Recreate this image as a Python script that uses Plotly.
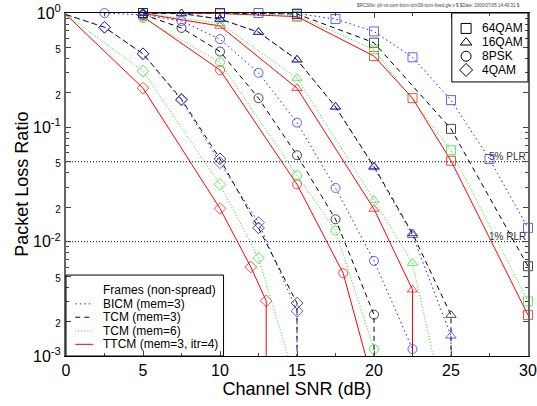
import numpy as np
import plotly.graph_objects as go

# ---------------- data ----------------
MODULATIONS = ["64QAM", "16QAM", "8PSK", "4QAM"]
SCHEMES = ["BICM", "TCM3", "TCM6", "TTCM"]
SCHEME_LABELS = ["BICM (mem=3)", "TCM (mem=3)", "TCM (mem=6)", "TTCM (mem=3, itr=4)"]
LEGEND_TITLE = "Frames (non-spread)"

# 4QAM   (a 0 loss ratio = no packet lost; drawn as a drop to the bottom)
SNR_4QAM_BICM = [0, 2.5, 5, 7.5, 10, 12.5, 15, 15]
PLR_4QAM_BICM = [0.97, 0.75, 0.44, 0.173, 0.049, 0.0147, 0.00247, 0]
SNR_4QAM_TCM3 = [0, 2.5, 5, 7.5, 10, 12.5, 15, 15]
PLR_4QAM_TCM3 = [0.97, 0.75, 0.44, 0.176, 0.053, 0.0132, 0.0029, 0]
SNR_4QAM_TCM6 = [0, 5, 10, 12.5, 15]
PLR_4QAM_TCM6 = [0.97, 0.31, 0.0317, 0.0072, 0.00055]
SNR_4QAM_TTCM = [0, 5, 10, 12, 13, 13]
PLR_4QAM_TTCM = [0.97, 0.22, 0.0195, 0.006, 0.00304, 0]

# 8PSK
SNR_8PSK_BICM = [2.5, 5, 7.5, 10, 12.5, 15, 17.5, 20, 22.5, 22.5]
PLR_8PSK_BICM = [1.0, 0.96, 0.85, 0.59, 0.30, 0.11, 0.0295, 0.0068, 0.00115, 0]
SNR_8PSK_TCM3 = [5, 7.5, 10, 12.5, 15, 17.5, 20, 20]
PLR_8PSK_TCM3 = [0.97, 0.74, 0.46, 0.18, 0.057, 0.0157, 0.0023, 0]
SNR_8PSK_TCM6 = [5, 10, 15, 17.5, 20, 20]
PLR_8PSK_TCM6 = [0.90, 0.37, 0.038, 0.0125, 0.00115, 0]
SNR_8PSK_TTCM = [5, 10, 15, 18, 20]
PLR_8PSK_TTCM = [0.93, 0.317, 0.0317, 0.0053, 0.00054]

# 16QAM
SNR_16QAM_BICM = [5, 7.5, 10, 12.5, 15, 17.5, 20, 22.5, 25, 25]
PLR_16QAM_BICM = [1.0, 0.99, 0.885, 0.68, 0.39, 0.151, 0.0446, 0.0114, 0.0015, 0]
SNR_16QAM_TCM3 = [5, 7.5, 10, 12.5, 15, 17.5, 20, 22.5, 25, 25]
PLR_16QAM_TCM3 = [1.0, 0.99, 0.885, 0.68, 0.39, 0.151, 0.0455, 0.0118, 0.00228, 0]
SNR_16QAM_TCM6 = [5, 10, 15, 20, 22.5, 25]
PLR_16QAM_TCM6 = [1.0, 0.81, 0.27, 0.0231, 0.0065, 0.0002]
SNR_16QAM_TTCM = [5, 10, 15, 20, 22.5, 22.5]
PLR_16QAM_TTCM = [0.99, 0.77, 0.22, 0.0193, 0.0038, 0]

# 64QAM
SNR_64QAM_BICM = [10, 12.5, 15, 17.5, 20, 22.5, 25, 27.5, 30]
PLR_64QAM_BICM = [1.0, 1.0, 0.99, 0.885, 0.69, 0.41, 0.173, 0.0528, 0.0132]
SNR_64QAM_TCM3 = [5, 10, 15, 20, 25, 30]
PLR_64QAM_TCM3 = [1.0, 1.0, 0.98, 0.55, 0.097, 0.0061]
SNR_64QAM_TCM6 = [5, 10, 15, 20, 25, 30]
PLR_64QAM_TCM6 = [1.0, 1.0, 0.95, 0.48, 0.063, 0.0030]
SNR_64QAM_TTCM = [5, 10, 15, 20, 22.5, 25, 30]
PLR_64QAM_TTCM = [1.0, 0.99, 0.93, 0.42, 0.18, 0.051, 0.00228]

PLR_LEVELS = [0.05, 0.01]
PLR_LEVEL_LABELS = ["5% PLR", "1% RLR"]

X_TICKS = [0, 5, 10, 15, 20, 25, 30]
HEADER = "$RCSfile: plr-vs-csnr-bicm-tcm36-ttcm-fixed.gle,v $ $Date: 2000/07/05 14:49:31 $"

# ---------------- styling ----------------
FONT = "Liberation Sans, Arial, Helvetica, sans-serif"
X_MIN, X_MAX = 0, 30
Y_MIN, Y_MAX = 1e-3, 1.0
ZERO_FLOOR = 1e-9
MSIZE = 9

COLORS = {"BICM": "#2020ff", "TCM3": "#000000", "TCM6": "#1ee01e", "TTCM": "#ff0000"}
DASHES = {"BICM": "1.5px,3px", "TCM3": "5px,4px", "TCM6": "1px,2px", "TTCM": "solid"}
SYMBOLS = {"64QAM": "square-open", "16QAM": "triangle-up-open",
           "8PSK": "circle-open", "4QAM": "diamond-open"}

SERIES = {
    ("4QAM", "BICM"): (SNR_4QAM_BICM, PLR_4QAM_BICM),
    ("4QAM", "TCM3"): (SNR_4QAM_TCM3, PLR_4QAM_TCM3),
    ("4QAM", "TCM6"): (SNR_4QAM_TCM6, PLR_4QAM_TCM6),
    ("4QAM", "TTCM"): (SNR_4QAM_TTCM, PLR_4QAM_TTCM),
    ("8PSK", "BICM"): (SNR_8PSK_BICM, PLR_8PSK_BICM),
    ("8PSK", "TCM3"): (SNR_8PSK_TCM3, PLR_8PSK_TCM3),
    ("8PSK", "TCM6"): (SNR_8PSK_TCM6, PLR_8PSK_TCM6),
    ("8PSK", "TTCM"): (SNR_8PSK_TTCM, PLR_8PSK_TTCM),
    ("16QAM", "BICM"): (SNR_16QAM_BICM, PLR_16QAM_BICM),
    ("16QAM", "TCM3"): (SNR_16QAM_TCM3, PLR_16QAM_TCM3),
    ("16QAM", "TCM6"): (SNR_16QAM_TCM6, PLR_16QAM_TCM6),
    ("16QAM", "TTCM"): (SNR_16QAM_TTCM, PLR_16QAM_TTCM),
    ("64QAM", "BICM"): (SNR_64QAM_BICM, PLR_64QAM_BICM),
    ("64QAM", "TCM3"): (SNR_64QAM_TCM3, PLR_64QAM_TCM3),
    ("64QAM", "TCM6"): (SNR_64QAM_TCM6, PLR_64QAM_TCM6),
    ("64QAM", "TTCM"): (SNR_64QAM_TTCM, PLR_64QAM_TTCM),
}

fig = go.Figure()

# draw order: red, green, black, blue (blue markers end up on top)
for scheme in ["TTCM", "TCM6", "TCM3", "BICM"]:
    for mod in MODULATIONS:
        xs, ys = SERIES[(mod, scheme)]
        yplot = [y if y > 0 else ZERO_FLOOR for y in ys]
        sizes = [0 if (x <= X_MIN or y < Y_MIN) else MSIZE for x, y in zip(xs, ys)]
        fig.add_trace(go.Scatter(
            x=xs, y=yplot, mode="lines+markers", showlegend=False,
            line=dict(color=COLORS[scheme], width=1, dash=DASHES[scheme]),
            marker=dict(symbol=SYMBOLS[mod], size=sizes, color=COLORS[scheme],
                        line=dict(width=1, color=COLORS[scheme])),
            cliponaxis=False,
        ))

# PLR reference lines
for lvl in PLR_LEVELS:
    fig.add_trace(go.Scatter(x=[X_MIN, X_MAX], y=[lvl, lvl], mode="lines", showlegend=False,
                             line=dict(color="black", width=1, dash="1px,2px")))

for lvl, lab in zip(PLR_LEVELS, PLR_LEVEL_LABELS):
    fig.add_annotation(x=X_MAX, y=np.log10(lvl), xref="x", yref="y", text=lab,
                       showarrow=False, xanchor="right", yanchor="bottom", yshift=-2,
                       font=dict(family=FONT, size=10, color="#333333"))

# ---------------- legends (drawn on a hidden overlay axis, 0..1 = plot area) ----------------
# marker legend (top right)
MK_LEG_X, MK_LEG_TEXT_X = 0.866, 0.897
MK_LEG_Y = [0.955, 0.914, 0.874, 0.834]
fig.add_trace(go.Scatter(
    x=[MK_LEG_X] * 4, y=MK_LEG_Y, xaxis="x2", yaxis="y2", mode="markers", showlegend=False,
    marker=dict(symbol=[SYMBOLS[m] for m in MODULATIONS], size=10, color="black",
                line=dict(width=1, color="black")), cliponaxis=False))
for m, yy in zip(MODULATIONS, MK_LEG_Y):
    fig.add_annotation(x=MK_LEG_TEXT_X, y=yy, xref="paper", yref="paper", text=m,
                       showarrow=False, xanchor="left", yanchor="middle",
                       font=dict(family=FONT, size=12, color="black"))
fig.add_shape(type="rect", xref="paper", yref="paper", x0=0.835, x1=1.0, y0=0.799, y1=1.0,
              line=dict(color="black", width=1))

# line legend (bottom left)
LN_LEG_X0, LN_LEG_X1, LN_LEG_TEXT_X = 0.020, 0.059, 0.075
LN_LEG_TITLE_Y = 0.192
LN_LEG_Y = [0.152, 0.113, 0.073, 0.034]
for s, yy in zip(SCHEMES, LN_LEG_Y):
    fig.add_trace(go.Scatter(x=[LN_LEG_X0, LN_LEG_X1], y=[yy, yy], xaxis="x2", yaxis="y2",
                             mode="lines", showlegend=False,
                             line=dict(color=COLORS[s], width=1, dash=DASHES[s])))
for lab, yy in zip(SCHEME_LABELS, LN_LEG_Y):
    fig.add_annotation(x=LN_LEG_TEXT_X, y=yy, xref="paper", yref="paper", text=lab,
                       showarrow=False, xanchor="left", yanchor="middle",
                       font=dict(family=FONT, size=12, color="black"))
fig.add_annotation(x=LN_LEG_TEXT_X, y=LN_LEG_TITLE_Y, xref="paper", yref="paper",
                   text=LEGEND_TITLE, showarrow=False, xanchor="left", yanchor="middle",
                   font=dict(family=FONT, size=12, color="black"))
fig.add_shape(type="rect", xref="paper", yref="paper", x0=0.0, x1=0.341, y0=0.0, y1=0.236,
              line=dict(color="black", width=1))

# header stamp
fig.add_annotation(x=0.987, y=1.023, xref="paper", yref="paper", text=HEADER,
                   showarrow=False, xanchor="right", yanchor="middle",
                   font=dict(family=FONT, size=4.5, color="#444444"))

# y axis title
fig.add_annotation(x=-0.097, y=0.5, xref="paper", yref="paper", text="Packet Loss Ratio",
                   textangle=-90, showarrow=False, xanchor="center", yanchor="middle",
                   font=dict(family=FONT, size=18, color="black"))

# ---------------- axes ----------------
y_major, y_text = [], []
for d in range(-3, 1):
    y_major.append(10.0 ** d)
    y_text.append("10<sup>%d</sup>" % d)
    if d < 0:
        for k in (2, 5):
            y_major.append(k * 10.0 ** d)
            y_text.append('<span style="font-size:10px">%d</span>' % k)
y_minor = [k * 10.0 ** d for d in range(-3, 0) for k in (3, 4, 6, 7, 8, 9)]

fig.update_layout(
    width=537, height=406,
    margin=dict(l=66, r=9, t=13, b=50),
    paper_bgcolor="white", plot_bgcolor="white",
    font=dict(family=FONT, color="black"),
    xaxis=dict(range=[X_MIN, X_MAX], tickvals=X_TICKS, ticks="inside", ticklen=5,
               showline=True, linecolor="black", linewidth=1, mirror="allticks",
               showgrid=False, zeroline=False, tickfont=dict(size=16, family=FONT),
               automargin=False,
               minor=dict(dtick=2.5, ticks="inside", ticklen=3),
               title=dict(text="Channel SNR (dB)", font=dict(size=18, family=FONT), standoff=2)),
    yaxis=dict(type="log", range=[np.log10(Y_MIN), np.log10(Y_MAX)], tickvals=y_major,
               ticktext=y_text, ticks="inside", ticklen=5, showline=True, linecolor="#666666",
               linewidth=2, mirror="allticks", showgrid=False, zeroline=False,
               tickfont=dict(size=16, family=FONT), automargin=False,
               minor=dict(tickvals=y_minor, ticks="inside", ticklen=3)),
    xaxis2=dict(overlaying="x", anchor="y2", range=[0, 1], visible=False),
    yaxis2=dict(overlaying="y", anchor="x2", range=[0, 1], visible=False),
)

fig.write_html("out.html")
